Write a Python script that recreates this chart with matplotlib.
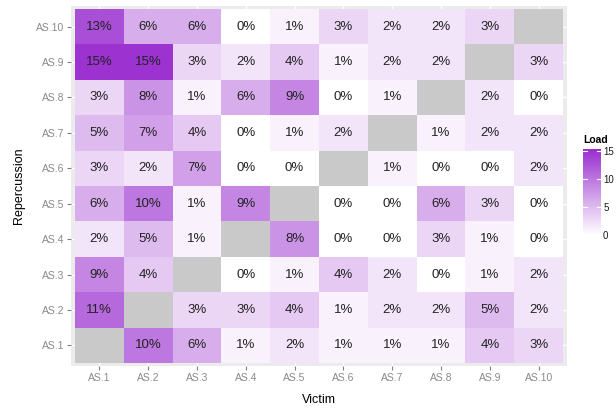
import numpy as np
import matplotlib
matplotlib.use("Agg")
import matplotlib.pyplot as plt
from matplotlib.colors import LinearSegmentedColormap

victims = ["AS.1", "AS.2", "AS.3", "AS.4", "AS.5", "AS.6", "AS.7", "AS.8", "AS.9", "AS.10"]
repercussions = ["AS.1", "AS.2", "AS.3", "AS.4", "AS.5", "AS.6", "AS.7", "AS.8", "AS.9", "AS.10"]
nan = np.nan
# rows: repercussion AS.1 .. AS.10 ; columns: victim AS.1 .. AS.10
load_as1 = [nan, 10, 6, 1, 2, 1, 1, 1, 4, 3]
load_as2 = [11, nan, 3, 3, 4, 1, 2, 2, 5, 2]
load_as3 = [9, 4, nan, 0, 1, 4, 2, 0, 1, 2]
load_as4 = [2, 5, 1, nan, 8, 0, 0, 3, 1, 0]
load_as5 = [6, 10, 1, 9, nan, 0, 0, 6, 3, 0]
load_as6 = [3, 2, 7, 0, 0, nan, 1, 0, 0, 2]
load_as7 = [5, 7, 4, 0, 1, 2, nan, 1, 2, 2]
load_as8 = [3, 8, 1, 6, 9, 0, 1, nan, 2, 0]
load_as9 = [15, 15, 3, 2, 4, 1, 2, 2, nan, 3]
load_as10 = [13, 6, 6, 0, 1, 3, 2, 2, 3, nan]

data = np.array([load_as1, load_as2, load_as3, load_as4, load_as5,
                 load_as6, load_as7, load_as8, load_as9, load_as10], dtype=float)

cmap = LinearSegmentedColormap.from_list("load", ["#FFFFFF", "#9A2FCF"])
cmap.set_bad("#C9C9C9")
vmin, vmax = 0, 15.3

plt.rcParams['font.family'] = ['Liberation Sans', 'DejaVu Sans']
fig = plt.figure(figsize=(6.16, 4.11), dpi=100)
ax = fig.add_axes([71/616, 1-366/411, (567-71)/616, (366-6)/411])
ax.set_facecolor("#EBEBEB")

n = len(victims)
x = np.arange(1, n + 1)
edges = np.arange(0.5, n + 1.5, 1)
masked = np.ma.masked_invalid(data)
ax.pcolormesh(edges, edges, masked, cmap=cmap, vmin=vmin, vmax=vmax, zorder=2)

for i in range(n):
    for j in range(n):
        v = data[i, j]
        if not np.isnan(v):
            ax.text(x[j], x[i], f"{int(round(v))}%", ha="center", va="center",
                    fontsize=9.5, color="#222222", zorder=3)

ax.set_xlim(0.42, n + 0.58)
ax.set_ylim(0.42, n + 0.58)
ax.set_xticks(x)
ax.set_xticklabels(victims)
ax.set_yticks(x)
ax.set_yticklabels(repercussions)
ax.grid(True, color="white", linewidth=1, zorder=1)
ax.set_axisbelow(True)
for s in ax.spines.values():
    s.set_visible(False)
ax.tick_params(axis="both", colors="#7F7F7F", labelcolor="#8A8A8A", labelsize=7.5,
               length=3, width=0.8, pad=2)
ax.set_xlabel("Victim", fontsize=9, color="black", labelpad=8)
ax.set_ylabel("Repercussion", fontsize=9, color="black", labelpad=8)

# colorbar legend
cax = fig.add_axes([583/616, 1-240/411, 18/616, 91/411])
lo, hi = -0.89, 15.36
grad = np.linspace(lo, hi, 200).reshape(-1, 1)
cax.imshow(np.clip(grad, vmin, vmax), aspect="auto", origin="lower", cmap=cmap,
           vmin=vmin, vmax=vmax, extent=[0, 1, lo, hi])
cax.set_xlim(0, 1)
cax.set_ylim(lo, hi)
cax.set_xticks([])
cax.set_yticks([0, 5, 10, 15])
cax.yaxis.tick_right()
cax.tick_params(axis="y", length=0, labelsize=7, labelcolor="#1A1A1A", pad=1.5)
for t in [0, 5, 10, 15]:
    cax.plot([0, 0.2], [t, t], color="white", lw=0.8)
    cax.plot([0.8, 1], [t, t], color="white", lw=0.8)
for s in cax.spines.values():
    s.set_visible(False)
fig.text(583/616, 1-140/411, "Load", fontsize=7.5, fontweight="bold", va="center", ha="left")

fig.savefig("out.png", dpi=100)
